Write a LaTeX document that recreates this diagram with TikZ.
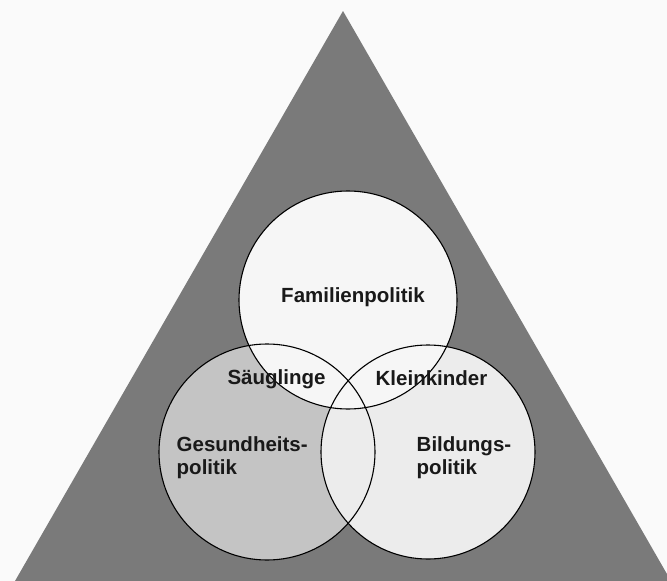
\documentclass[tikz,border=0pt]{standalone}
\usepackage{fontspec}
\setmainfont{Liberation Sans}
\begin{document}
\begin{tikzpicture}[x=1pt,y=-1pt,
  lbl/.style={font=\bfseries\fontsize{20.5}{23}\selectfont, text=black!90, inner sep=0pt},
  ring/.style={circle, inner sep=0pt, minimum size=#1}]
\definecolor{bg}{HTML}{FAFAFA}
\definecolor{tri}{HTML}{7A7A7A}
\definecolor{lc}{HTML}{C4C4C4}
\definecolor{rc}{HTML}{ECECEC}
\definecolor{tc}{HTML}{F6F6F6}
\useasboundingbox (0,0) rectangle (667,581);
\clip (0,0) rectangle (667,581);
\fill[bg] (0,0) rectangle (667,581);
\coordinate (apex) at (343,11);
\coordinate (bl) at (15,581);
\coordinate (br) at (671,581);
\fill[tri] (apex) -- (bl) -- (br) -- cycle;
% circle fills
\node[ring=216pt, fill=lc] (L) at (267,452) {};
\node[ring=214pt, fill=rc] (R) at (428,452) {};
\node[ring=218pt, fill=tc] (T) at (348,300) {};
% outlines
\draw[line width=1.1pt] (L.center) circle[radius=108pt];
\draw[line width=1.1pt] (R.center) circle[radius=107pt];
\draw[line width=1.1pt] (T.center) circle[radius=109pt];
% labels
\node[lbl] (fam) at (353,297) {Familienpolitik};
\node[lbl] (saeug) at (276.5,379) {Säuglinge};
\node[lbl] (klein) at (431.5,378) {Kleinkinder};
\node[lbl, align=left, anchor=west] (ges) at (176.5,458) {Gesundheits-\\politik};
\node[lbl, align=left, anchor=west] (bild) at (416.5,458) {Bildungs-\\politik};
\end{tikzpicture}
\end{document}
